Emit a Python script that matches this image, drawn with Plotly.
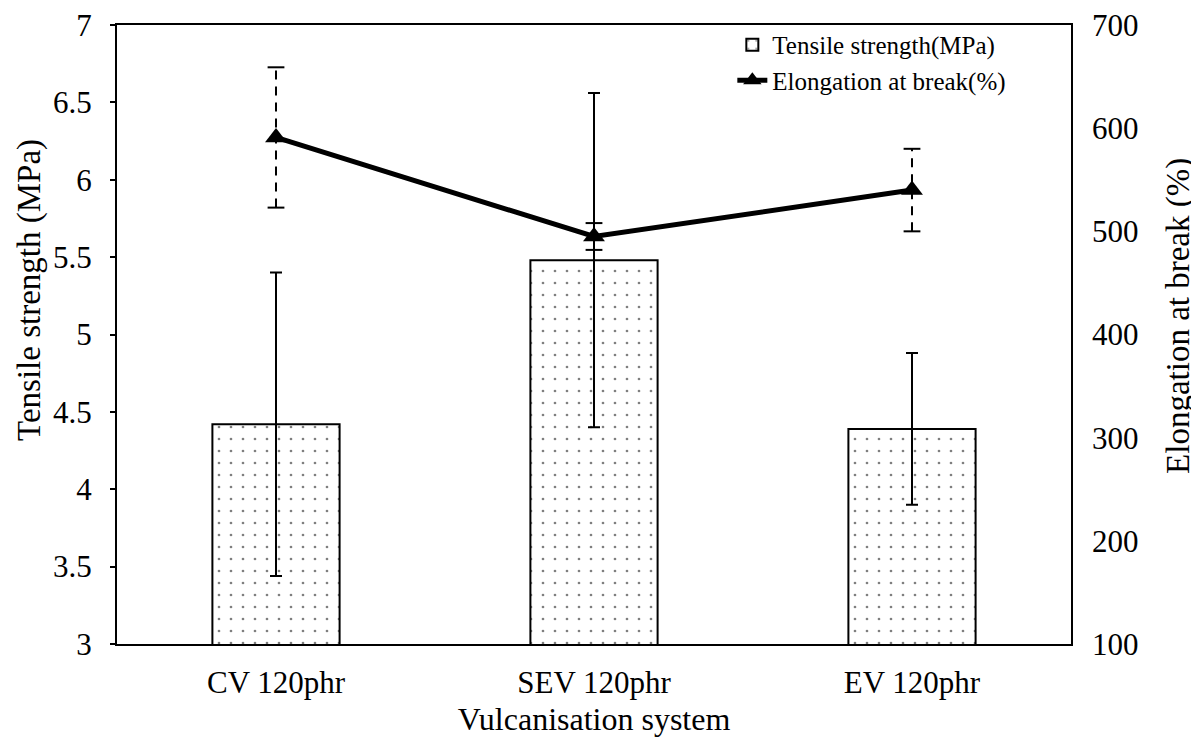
import plotly.graph_objects as go

categories = ["CV 120phr", "SEV 120phr", "EV 120phr"]
tensile = [4.42, 5.48, 4.39]
tensile_err = [0.98, 1.08, 0.49]
elong = [591, 495, 540]
elong_err = [68, 13, 40]

y_title = "Tensile strength (MPa)"
y2_title = "Elongation at break (%)"
x_title = "Vulcanisation system"

FONT = "Liberation Serif"


def f(size):
    return dict(family=FONT, size=size, color="black")


fig = go.Figure()

fig.add_trace(go.Bar(
    x=categories, y=tensile, name="Tensile strength(MPa)",
    width=0.4,
    marker=dict(color="white", line=dict(color="black", width=2),
                pattern=dict(shape=".", fgcolor="black", bgcolor="white",
                             size=12, solidity=0.04)),
    error_y=dict(type="data", array=tensile_err, color="black",
                 thickness=2, width=6),
    yaxis="y",
))

# dashed error bars for elongation
for c, v, e in zip(categories, elong, elong_err):
    fig.add_trace(go.Scatter(
        x=[c, c], y=[v - e, v + e], mode="lines+markers",
        line=dict(color="black", width=2, dash="9px,7px"),
        marker=dict(symbol="line-ew-open", size=12,
                    line=dict(color="black", width=2)),
        showlegend=False, yaxis="y2", hoverinfo="skip",
    ))

fig.add_trace(go.Scatter(
    x=categories, y=elong, name="Elongation at break(%)",
    mode="lines+markers",
    line=dict(color="black", width=5),
    marker=dict(symbol="triangle-up", size=19, color="black"),
    yaxis="y2",
))

fig.update_layout(
    width=1191, height=729,
    margin=dict(l=109, r=128, t=17, b=93),
    paper_bgcolor="white", plot_bgcolor="white",
    font=f(31),
    showlegend=True,
    legend=dict(x=0.645, y=1.005, xanchor="left", yanchor="top",
                bgcolor="rgba(0,0,0,0)", font=f(25),
                tracegroupgap=0, itemwidth=30),
    xaxis=dict(
        showline=True, linecolor="black", linewidth=2, mirror=True,
        ticks="", showgrid=False, automargin=False,
        ticklabelstandoff=10,
        title=dict(text=x_title, font=f(32), standoff=10),
        tickfont=f(31),
    ),
    yaxis=dict(
        range=[3, 7], dtick=0.5, showgrid=False, zeroline=False,
        showline=True, linecolor="black", linewidth=2, mirror=True,
        ticks="outside", ticklen=5, tickwidth=2, tickcolor="black",
        ticklabelstandoff=12, automargin=False, ticklabeloverflow="allow",
        tickfont=f(31),
    ),
    yaxis2=dict(
        range=[100, 700], dtick=100, overlaying="y", side="right",
        showgrid=False, zeroline=False, showline=False, ticks="",
        ticklabelstandoff=20, automargin=False, ticklabeloverflow="allow",
        tickfont=f(31),
    ),
    bargap=0.6,
    annotations=[
        dict(text=y_title, xref="paper", yref="paper", x=0, y=0.572,
             xanchor="center", yanchor="middle", xshift=-87,
             textangle=-90, showarrow=False, font=f(33)),
        dict(text=y2_title, xref="paper", yref="paper", x=1, y=0.53,
             xanchor="center", yanchor="middle", xshift=108,
             textangle=-90, showarrow=False, font=f(33)),
    ],
)

fig.write_html("out.html")
